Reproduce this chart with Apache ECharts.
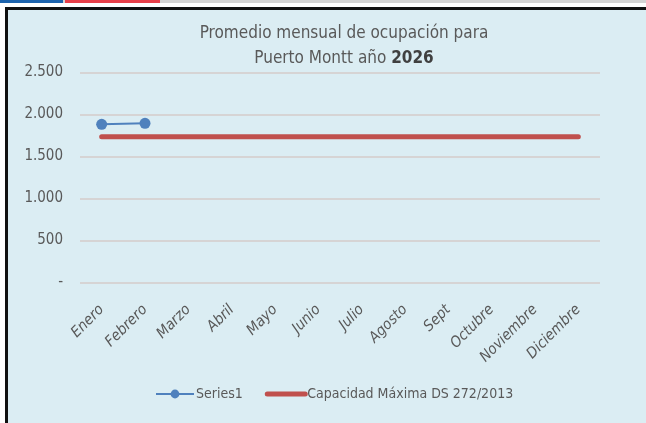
<!DOCTYPE html>
<html>
<head>
<meta charset="utf-8">
<script src="https://cdn.jsdelivr.net/npm/echarts@6/dist/echarts.min.js"></script>
<style>
  body { margin: 0; width: 646px; height: 423px; overflow: hidden; background: #fff; position: relative; }
  #strip { position: absolute; left: 0; top: 0; width: 646px; height: 3px; background: #d4d4d4; }
  #strip .b { position: absolute; left: 0; top: 0; width: 63px; height: 3px; background: #1c63ad; }
  #strip .r { position: absolute; left: 65px; top: 0; width: 95px; height: 3px; background: #e8404a; }
  #frame { position: absolute; left: 5px; top: 7px; width: 641px; height: 416px; box-sizing: border-box;
           border-left: 3px solid #111; border-top: 3px solid #111; background: #dbedf3; }
  #chart { position: absolute; left: 0; top: 0; width: 646px; height: 423px; }
</style>
</head>
<body>
<div id="strip"><div class="b"></div><div class="r"></div></div>
<div id="frame"></div>
<div id="chart"></div>
<script>
// datos
const months = ['Enero', 'Febrero', 'Marzo', 'Abril', 'Mayo', 'Junio', 'Julio', 'Agosto', 'Sept', 'Octubre', 'Noviembre', 'Diciembre']
const series1 = [1883, 1895, null, null, null, null, null, null, null, null, null, null]
const capacidad = [1735, 1735, 1735, 1735, 1735, 1735, 1735, 1735, 1735, 1735, 1735, 1735]
const yTicks = [0, 500, 1000, 1500, 2000, 2500]

const font = '"DejaVu Sans Condensed", "Open Sans", sans-serif'
const chart = echarts.init(document.getElementById('chart'))

chart.setOption({
  backgroundColor: 'transparent',
  animation: false,
  title: {
    text: 'Promedio mensual de ocupación para\nPuerto Montt año {b|2026}',
    left: 339,
    textAlign: 'center',
    top: 16,
    textStyle: {
      fontFamily: font,
      fontSize: 17,
      fontWeight: 'normal',
      color: '#595959',
      lineHeight: 25,
      rich: {
        b: { fontFamily: font, fontSize: 17, fontWeight: 'bold', color: '#404040' }
      }
    }
  },
  legend: {
    bottom: 17,
    left: 150,
    itemGap: 22,
    itemWidth: 38,
    itemHeight: 11,
    textStyle: { fontFamily: font, fontSize: 14, color: '#595959', padding: [0, 0, 0, -3] },
    data: [
      'Series1',
      { name: 'Capacidad Máxima DS 272/2013', itemStyle: { opacity: 0 }, lineStyle: { width: 5 } }
    ]
  },
  grid: { left: 80, right: 46, top: 72.5, bottom: 140.5 },
  xAxis: {
    type: 'category',
    data: months,
    boundaryGap: true,
    axisLine: { show: false },
    axisTick: { show: false },
    axisLabel: {
      rotate: 45,
      interval: 0,
      margin: 25,
      fontFamily: font,
      fontSize: 15,
      fontStyle: 'italic',
      color: '#595959'
    }
  },
  yAxis: {
    type: 'value',
    min: yTicks[0],
    max: yTicks[yTicks.length - 1],
    interval: 500,
    axisLine: { show: false },
    axisTick: { show: false },
    splitLine: { lineStyle: { color: '#d6d4d4', width: 2 } },
    axisLabel: {
      margin: 17,
      fontFamily: font,
      fontSize: 15,
      color: '#595959',
      formatter: v => v === 0 ? '-' : String(v).replace(/\B(?=(\d{3})+(?!\d))/g, '.')
    }
  },
  series: [
    {
      name: 'Capacidad Máxima DS 272/2013',
      type: 'line',
      data: capacidad,
      symbol: 'none',
      lineStyle: { color: '#c0504d', width: 5, cap: 'round' },
      itemStyle: { color: '#c0504d' },
      z: 2
    },
    {
      name: 'Series1',
      type: 'line',
      data: series1,
      symbol: 'circle',
      symbolSize: 11,
      lineStyle: { color: '#4f81bd', width: 2 },
      itemStyle: { color: '#4f81bd' },
      z: 3
    }
  ]
})
</script>
</body>
</html>
